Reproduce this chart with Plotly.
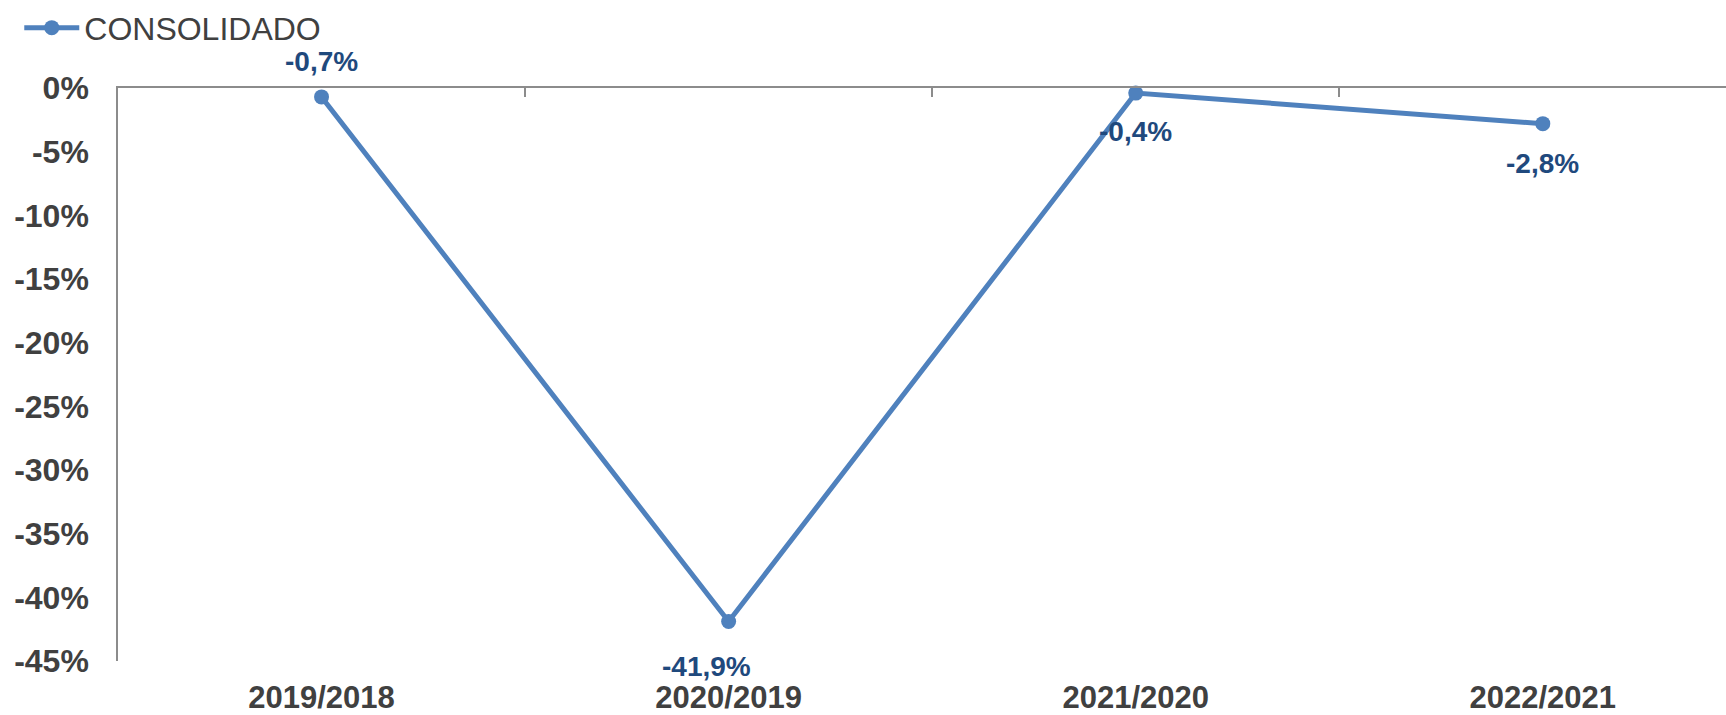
import plotly.graph_objects as go

categories = ["2019/2018", "2020/2019", "2021/2020", "2022/2021"]
values = [-0.7, -41.9, -0.4, -2.8]
y_tick_values = [0, -5, -10, -15, -20, -25, -30, -35, -40, -45]
y_tick_labels = ["0%", "-5%", "-10%", "-15%", "-20%", "-25%", "-30%", "-35%", "-40%", "-45%"]
series_name = "CONSOLIDADO"

labels = [f"{v:.1f}".replace(".", ",") + "%" for v in values]

# label placement (style, not data): (xshift, yshift) in pixels
label_shifts = [(0, 35), (-22, -45), (0, -38), (0, -40)]

FONT = "Liberation Sans, Arial, sans-serif"
LINE_COLOR = "#4F81BD"
LABEL_COLOR = "#1F497D"
TEXT_COLOR = "#404040"
AXIS_COLOR = "#8C8C8C"

fig = go.Figure()
fig.add_trace(go.Scatter(
    x=categories, y=values, name=series_name,
    mode="lines+markers",
    line=dict(color=LINE_COLOR, width=5),
    marker=dict(color=LINE_COLOR, size=15),
    cliponaxis=False,
))
# invisible trace on top axis to carry boundary ticks
fig.add_trace(go.Scatter(x=categories, y=values, xaxis="x2", mode="none",
                         showlegend=False, hoverinfo="skip"))

for cat, val, lab, (dx, dy) in zip(categories, values, labels, label_shifts):
    fig.add_annotation(x=cat, y=val, xref="x", yref="y", text=lab, showarrow=False,
                       xshift=dx, yshift=dy,
                       font=dict(family=FONT, size=28, color=LABEL_COLOR, weight="bold"))

fig.update_layout(
    width=1726, height=715,
    margin=dict(l=118, r=0, t=88, b=52),
    paper_bgcolor="white", plot_bgcolor="white",
    font=dict(family=FONT, color=TEXT_COLOR),
    showlegend=True,
    legend=dict(x=-0.0614, y=1.153, xanchor="left", yanchor="top",
                font=dict(family=FONT, size=32, color=TEXT_COLOR),
                bgcolor="rgba(0,0,0,0)", itemwidth=55),
    xaxis=dict(type="category", range=[-0.5, 3.45], showline=False, showgrid=False,
               zeroline=False, ticks="",
               tickfont=dict(family=FONT, size=31, color=TEXT_COLOR, weight="bold"),
               ticklabelstandoff=15),
    xaxis2=dict(type="category", overlaying="x", matches="x", side="top",
                anchor="y", showline=True, linecolor=AXIS_COLOR, linewidth=2,
                ticks="inside", tickson="boundaries", ticklen=9, tickwidth=1.5,
                tickcolor=AXIS_COLOR, showticklabels=False, showgrid=False),
    yaxis=dict(range=[-45, 0], tickvals=y_tick_values, ticktext=y_tick_labels,
               showline=True, linecolor=AXIS_COLOR, linewidth=1.5, showgrid=False,
               zeroline=False, ticks="",
               tickfont=dict(family=FONT, size=32, color=TEXT_COLOR, weight="bold"),
               ticklabelstandoff=21),
)

fig.write_html("out.html", config={"displayModeBar": False},
               post_script="document.body.style.margin='0px';")
